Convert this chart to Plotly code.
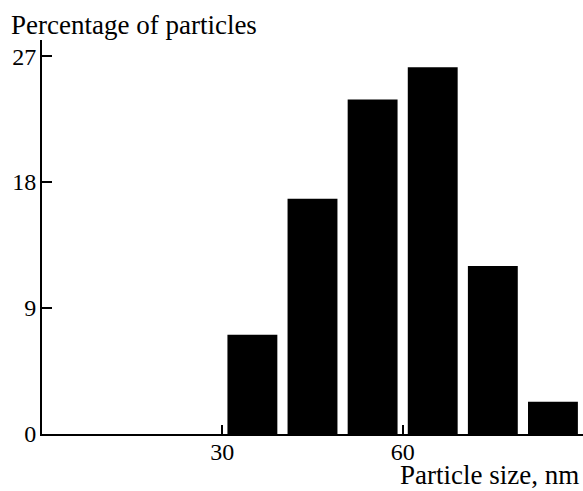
import plotly.graph_objects as go

# Data
bin_centers = [35, 45, 55, 65, 75, 85]
percentages = [7.1, 16.8, 23.9, 26.2, 12.0, 2.3]
x_ticks = [30, 60]
y_ticks = [0, 9, 18, 27]
y_title = "Percentage of particles"
x_title = "Particle size, nm"

FONT = "Liberation Serif"
W, H = 583, 491
L, R, T, B = 42, 0, 40, 57

fig = go.Figure(
    go.Bar(
        x=bin_centers,
        y=percentages,
        width=8.3,
        marker=dict(color="black", line=dict(width=0)),
    )
)

fig.update_layout(
    width=W,
    height=H,
    margin=dict(l=L, r=R, t=T, b=B),
    paper_bgcolor="white",
    plot_bgcolor="white",
    showlegend=False,
    font=dict(family=FONT, size=24, color="black"),
)

fig.update_xaxes(
    range=[0, 90],
    tickvals=x_ticks,
    ticktext=[str(v) for v in x_ticks],
    ticks="inside",
    ticklen=9,
    tickwidth=2,
    tickcolor="black",
    ticklabelstandoff=-5,
    showline=True,
    linecolor="black",
    linewidth=2,
    showgrid=False,
    zeroline=False,
    tickfont=dict(family=FONT, size=24, color="black"),
)
fig.update_yaxes(
    range=[0, 28.15],
    tickvals=y_ticks,
    ticktext=[str(v) for v in y_ticks],
    ticks="inside",
    ticklen=10,
    tickwidth=2,
    tickcolor="black",
    ticklabelstandoff=-1,
    showline=True,
    linecolor="black",
    linewidth=2,
    showgrid=False,
    zeroline=False,
    tickfont=dict(family=FONT, size=24, color="black"),
)

pw = W - L - R
ph = H - T - B
fig.add_annotation(
    text=y_title,
    xref="paper", yref="paper",
    x=(9 - L) / pw, y=(H - B - 25) / ph,
    xanchor="left", yanchor="middle",
    showarrow=False,
    font=dict(family=FONT, size=27, color="black"),
)
fig.add_annotation(
    text=x_title,
    xref="paper", yref="paper",
    x=(581 - L) / pw, y=((H - B) - 475) / ph,
    xanchor="right", yanchor="middle",
    showarrow=False,
    font=dict(family=FONT, size=27, color="black"),
)

fig.write_html("out.html")
